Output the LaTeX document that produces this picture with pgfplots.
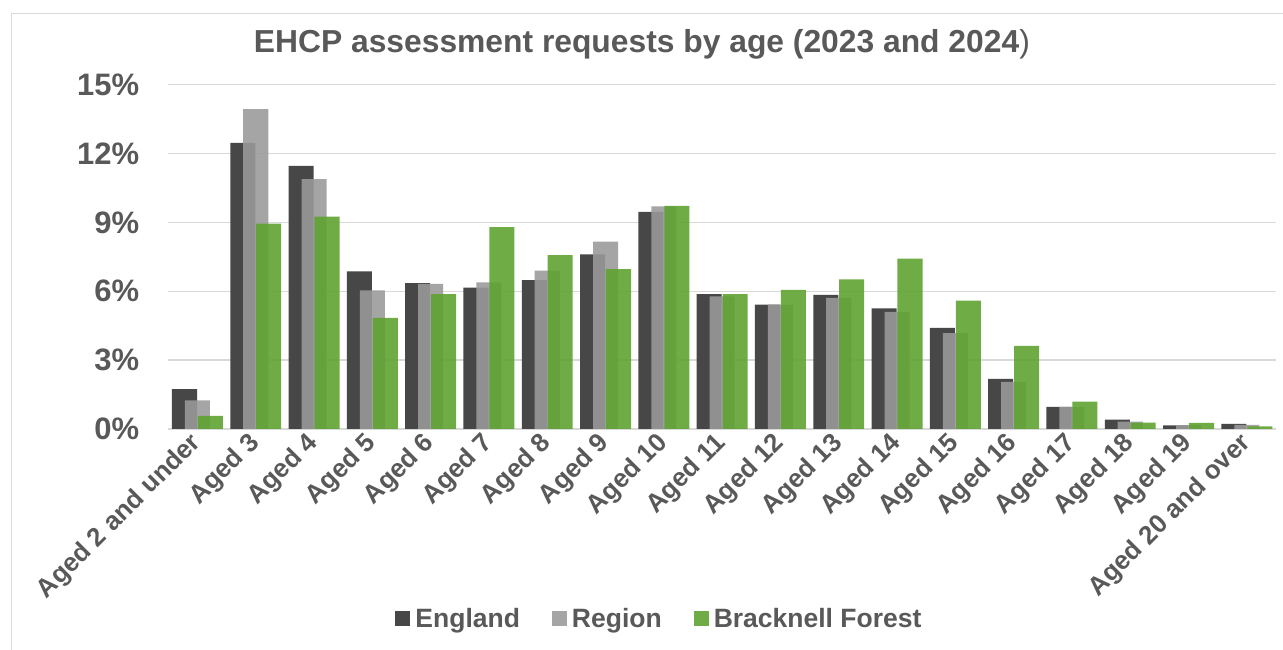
\documentclass[border=0pt]{standalone}
\usepackage{fontspec}
\setmainfont{Liberation Sans}
\usepackage{pgfplots}
\pgfplotsset{compat=1.18}
\usepackage{pgfplotstable}

\definecolor{textgray}{HTML}{595959}
\definecolor{gridgray}{HTML}{D9D9D9}
\definecolor{englandc}{HTML}{474747}
\definecolor{regionc}{HTML}{9A9A9A}
\definecolor{bracknellc}{HTML}{5EA230}

% Share of EHCP assessment requests (%) by age group, 0 = "Aged 2 and under" ... 18 = "Aged 20 and over"
\pgfplotstableread{
x  england region bracknell
0  1.74    1.25   0.57
1  12.46   13.94  8.95
2  11.46   10.89  9.25
3  6.87    6.04   4.84
4  6.36    6.32   5.88
5  6.16    6.39   8.79
6  6.49    6.90   7.57
7  7.61    8.16   6.96
8  9.46    9.70   9.72
9  5.88    5.78   5.88
10 5.42    5.42   6.06
11 5.84    5.71   6.52
12 5.26    5.10   7.42
13 4.41    4.18   5.59
14 2.18    2.05   3.62
15 0.96    0.96   1.19
16 0.41    0.32   0.28
17 0.16    0.17   0.27
18 0.22    0.18   0.11
}\ehcpdata

\begin{document}
\begin{tikzpicture}
\fill[white] (0,0) rectangle (1283pt,650pt);
\useasboundingbox (0,0) rectangle (1283pt,650pt);
% chart frame (left and top edges)
\draw[gridgray, line width=1.5pt] (11.7pt,0pt) -- (11.7pt,636.3pt) -- (1283pt,636.3pt);
\begin{axis}[
  at={(168.3pt,221pt)}, anchor=south west,
  scale only axis, width=1107.7pt, height=344.3pt,
  xmin=-0.5, xmax=18.5, ymin=0, ymax=15,
  ybar, bar width=0.43,
  axis line style={draw=none},
  major tick length=0pt, tick style={draw=none},
  ymajorgrids, grid style={color=gridgray, line width=1.5pt},
  ytick={0,3,6,9,12,15},
  yticklabels={0\%,3\%,6\%,9\%,12\%,15\%},
  yticklabel style={font=\fontsize{31}{34}\selectfont\bfseries, text=textgray, anchor=east, inner sep=0pt, xshift=-29pt},
  xtick={0,...,18},
  xticklabels={Aged 2 and under,Aged 3,Aged 4,Aged 5,Aged 6,Aged 7,Aged 8,Aged 9,Aged 10,Aged 11,Aged 12,Aged 13,Aged 14,Aged 15,Aged 16,Aged 17,Aged 18,Aged 19,Aged 20 and over},
  xticklabel style={font=\fontsize{26}{30}\selectfont\bfseries, text=textgray, inner sep=0pt, yshift=-10pt, rotate=45, anchor=east},
  title={EHCP assessment requests by age (2023 and 2024\textmd{)}},
  title style={at={(axis description cs:0.4276,1.0761)}, anchor=base, inner sep=0pt,
    font=\fontsize{31.8}{36}\selectfont\bfseries, text=textgray},
  legend columns=3,
  legend image code/.code={\fill[#1, draw=none] (0pt,-6.5pt) rectangle (15pt,8.5pt);},
  legend style={at={(axis description cs:0.4425,-0.552)}, anchor=center,
    draw=none, fill=none, inner sep=0pt,
    font=\fontsize{26.5}{30}\selectfont\bfseries, text=textgray,
    nodes={inner sep=0pt},
    /tikz/every odd column/.append style={column sep=5pt},
    /tikz/every even column/.append style={column sep=32pt}},
]
\addplot[fill=englandc, draw=none, bar shift=-0.222] table[x=x, y=england] {\ehcpdata};
\addlegendentry{England}
\addplot[fill=regionc, fill opacity=0.886, draw=none, bar shift=0] table[x=x, y=region] {\ehcpdata};
\addlegendentry{Region}
\addplot[fill=bracknellc, fill opacity=0.89, draw=none, bar shift=0.222] table[x=x, y=bracknell] {\ehcpdata};
\addlegendentry{Bracknell Forest}
\end{axis}
\end{tikzpicture}
\end{document}
